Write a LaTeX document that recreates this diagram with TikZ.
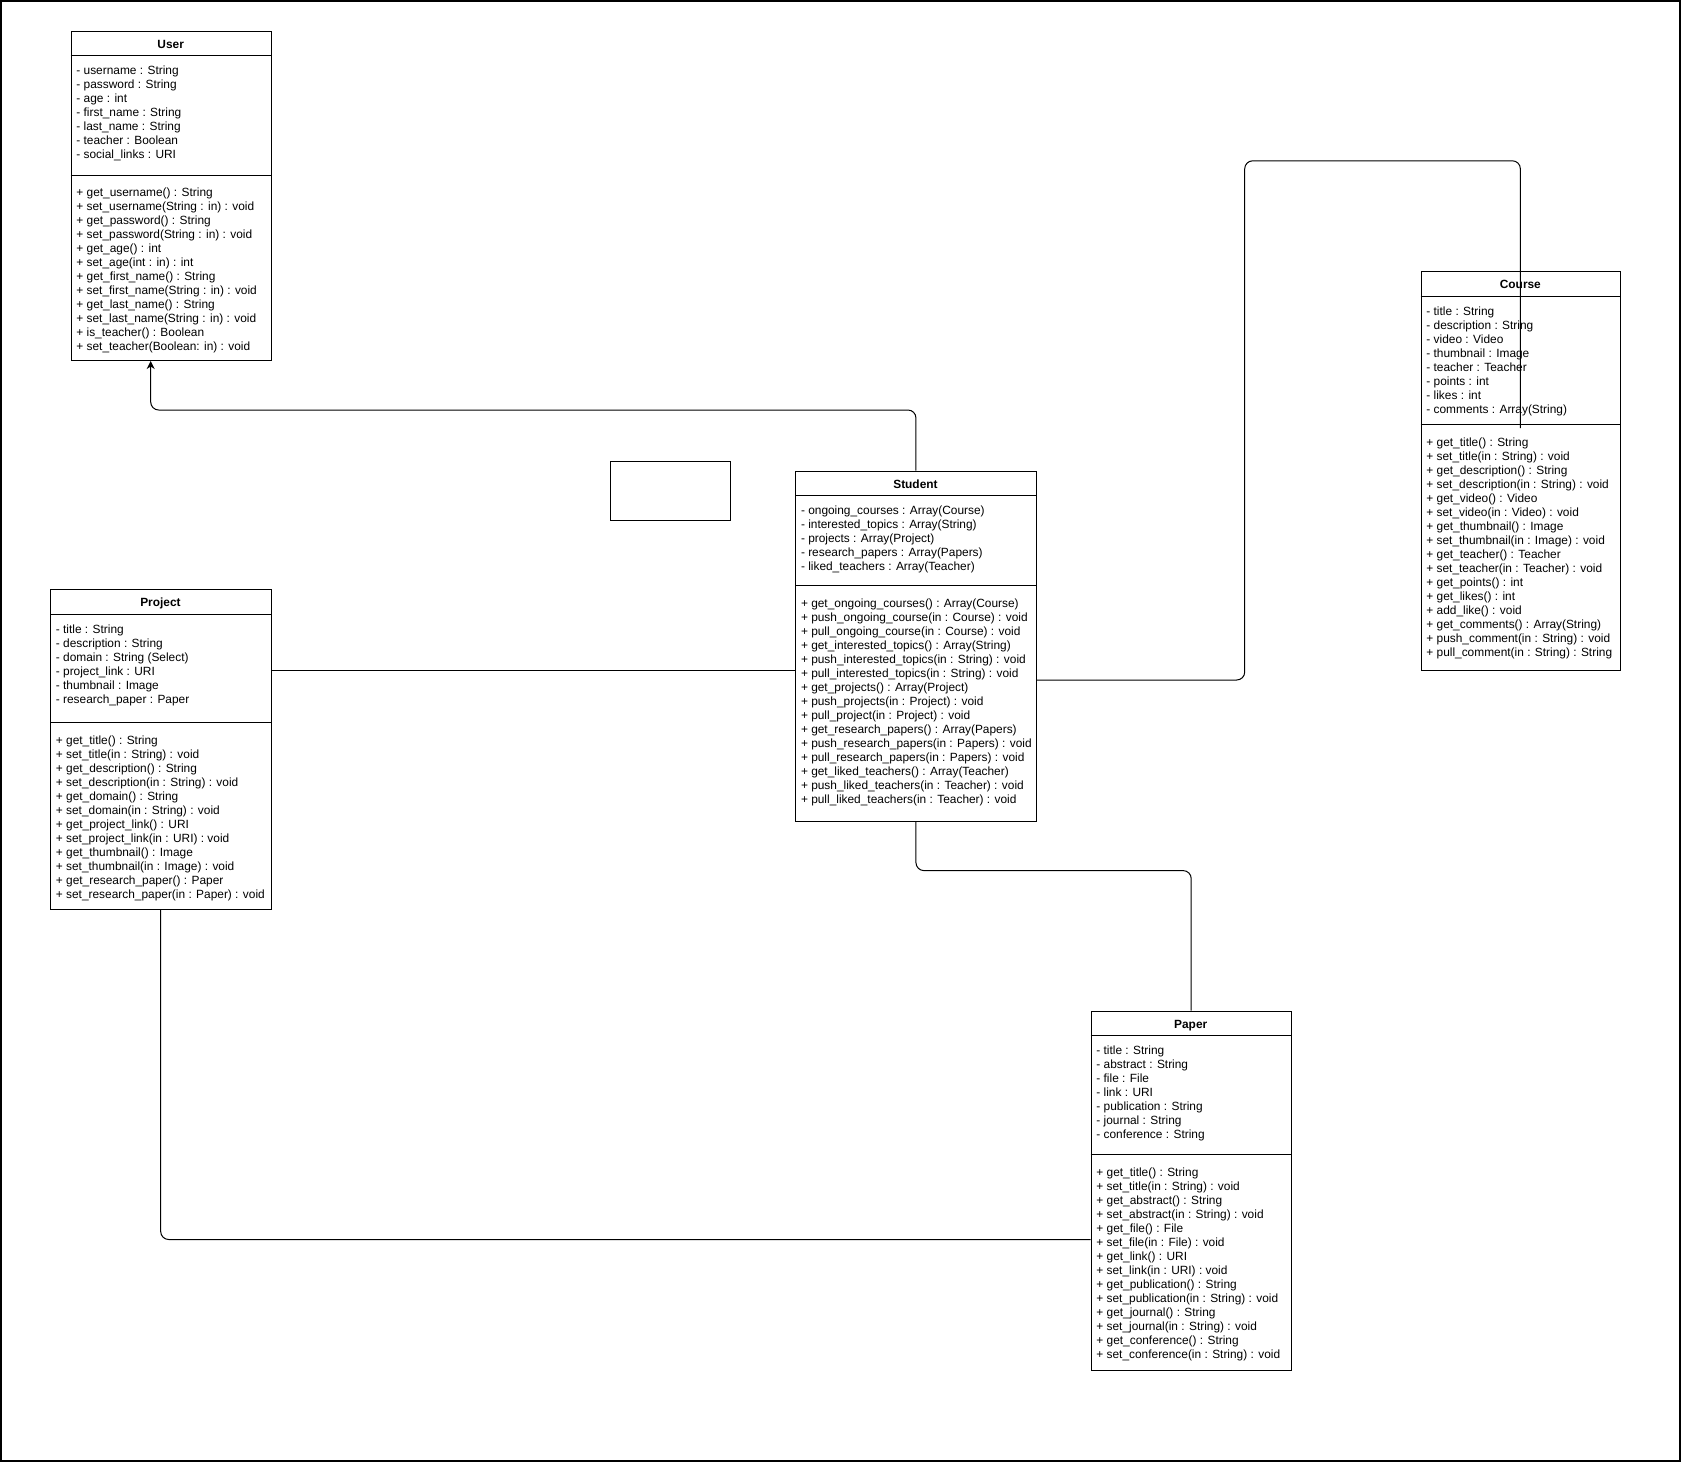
\documentclass[tikz,border=0pt]{standalone}
\usepackage{fontspec}
\setmainfont{Liberation Sans}
\usetikzlibrary{arrows.meta}

% The base anchor of a multi-line member list sits on its last line,
% so each list is placed at the baseline of its bottom line.
\tikzset{
  classbox/.style={draw, line width=1pt, rectangle, inner sep=0pt, anchor=north west},
  rule/.style={line width=1pt},
  classtitle/.style={anchor=base, inner sep=0pt, yshift=-1pt, font=\bfseries\fontsize{11.9}{14}\selectfont},
  members/.style={anchor=base west, align=left, inner sep=0pt, yshift=-1pt, font=\fontsize{11.9}{14}\selectfont},
  conn/.style={line width=1pt, rounded corners=8pt},
  inherit/.style={-{Stealth[length=8pt,width=8pt,inset=2.5pt]}},
}

\begin{document}
\begin{tikzpicture}[x=1pt,y=-1pt]
\useasboundingbox (0,0) rectangle (1681,1462);
% outer frame
\draw[line width=1.5pt] (0.9,0.8) rectangle (1680.2,1461.2);

% ---------------- User ----------------
\node[classbox, minimum width=200pt, minimum height=329pt] (user) at (70.7,31) {};
\draw[rule] (70.7,55.7) -- (270.7,55.7);
\draw[rule] (70.7,175) -- (270.7,175);
\node[classtitle] (user-title) at (170.7,47.6) {User};
\node[members] (user-attrs) at (76.2,157.7) {- username : String\\- password : String\\- age : int\\- first\_name : String\\- last\_name : String\\- teacher : Boolean\\- social\_links : URI};
\node[members] (user-ops) at (76.2,349.5) {+ get\_username() : String\\+ set\_username(String : in) : void\\+ get\_password() : String\\+ set\_password(String : in) : void\\+ get\_age() : int\\+ set\_age(int : in) : int\\+ get\_first\_name() : String\\+ set\_first\_name(String : in) : void\\+ get\_last\_name() : String\\+ set\_last\_name(String : in) : void\\+ is\_teacher() : Boolean\\+ set\_teacher(Boolean: in) : void};

% ---------------- Project ----------------
\node[classbox, minimum width=220.5pt, minimum height=320pt] (project) at (50.2,588.5) {};
\draw[rule] (50.2,614) -- (270.7,614);
\draw[rule] (50.2,722.7) -- (270.7,722.7);
\node[classtitle] (project-title) at (160.45,605.5) {Project};
\node[members] (project-attrs) at (55.7,702) {- title : String\\- description : String\\- domain : String (Select)\\- project\_link : URI\\- thumbnail : Image\\- research\_paper : Paper};
\node[members] (project-ops) at (55.7,897.2) {+ get\_title() : String\\+ set\_title(in : String) : void\\+ get\_description() : String\\+ set\_description(in : String) : void\\+ get\_domain() : String\\+ set\_domain(in : String) : void\\+ get\_project\_link() : URI\\+ set\_project\_link(in : URI) : void\\+ get\_thumbnail() : Image\\+ set\_thumbnail(in : Image) : void\\+ get\_research\_paper() : Paper\\+ set\_research\_paper(in : Paper) : void};

% ---------------- Student ----------------
\node[classbox, minimum width=240.3pt, minimum height=349.8pt] (student) at (795.3,470.7) {};
\draw[rule] (795.3,495.7) -- (1035.6,495.7);
\draw[rule] (795.3,585.8) -- (1035.6,585.8);
\node[classtitle] (student-title) at (915.45,487.5) {Student};
\node[members] (student-attrs) at (800.8,569.7) {- ongoing\_courses : Array(Course)\\- interested\_topics : Array(String)\\- projects : Array(Project)\\- research\_papers : Array(Papers)\\- liked\_teachers : Array(Teacher)};
\node[members] (student-ops) at (800.8,802.3) {+ get\_ongoing\_courses() : Array(Course)\\+ push\_ongoing\_course(in : Course) : void\\+ pull\_ongoing\_course(in : Course) : void\\+ get\_interested\_topics() : Array(String)\\+ push\_interested\_topics(in : String) : void\\+ pull\_interested\_topics(in : String) : void\\+ get\_projects() : Array(Project)\\+ push\_projects(in : Project) : void\\+ pull\_project(in : Project) : void\\+ get\_research\_papers() : Array(Papers)\\+ push\_research\_papers(in : Papers) : void\\+ pull\_research\_papers(in : Papers) : void\\+ get\_liked\_teachers() : Array(Teacher)\\+ push\_liked\_teachers(in : Teacher) : void\\+ pull\_liked\_teachers(in : Teacher) : void};

% ---------------- Course ----------------
\node[classbox, minimum width=199.3pt, minimum height=399.3pt] (course) at (1420.7,270.7) {};
\draw[rule] (1420.7,296) -- (1620,296);
\draw[rule] (1420.7,424.5) -- (1620,424.5);
\node[classtitle] (course-title) at (1520.35,287.6) {Course};
\node[members] (course-attrs) at (1426.2,412) {- title : String\\- description : String\\- video : Video\\- thumbnail : Image\\- teacher : Teacher\\- points : int\\- likes : int\\- comments : Array(String)};
\node[members] (course-ops) at (1426.2,655) {+ get\_title() : String\\+ set\_title(in : String) : void\\+ get\_description() : String\\+ set\_description(in : String) : void\\+ get\_video() : Video\\+ set\_video(in : Video) : void\\+ get\_thumbnail() : Image\\+ set\_thumbnail(in : Image) : void\\+ get\_teacher() : Teacher\\+ set\_teacher(in : Teacher) : void\\+ get\_points() : int\\+ get\_likes() : int\\+ add\_like() : void\\+ get\_comments() : Array(String)\\+ push\_comment(in : String) : void\\+ pull\_comment(in : String) : String};

% ---------------- Paper ----------------
\node[classbox, minimum width=200pt, minimum height=359.3pt] (paper) at (1090.7,1010.7) {};
\draw[rule] (1090.7,1035.7) -- (1290.7,1035.7);
\draw[rule] (1090.7,1154.5) -- (1290.7,1154.5);
\node[classtitle] (paper-title) at (1190.7,1027.5) {Paper};
\node[members] (paper-attrs) at (1096.2,1137.7) {- title : String\\- abstract : String\\- file : File\\- link : URI\\- publication : String\\- journal : String\\- conference : String};
\node[members] (paper-ops) at (1096.2,1357) {+ get\_title() : String\\+ set\_title(in : String) : void\\+ get\_abstract() : String\\+ set\_abstract(in : String) : void\\+ get\_file() : File\\+ set\_file(in : File) : void\\+ get\_link() : URI\\+ set\_link(in : URI) : void\\+ get\_publication() : String\\+ set\_publication(in : String) : void\\+ get\_journal() : String\\+ set\_journal(in : String) : void\\+ get\_conference() : String\\+ set\_conference(in : String) : void};

% empty box
\node[classbox, minimum width=120pt, minimum height=59pt] (blank) at (610,461) {};

% ---------------- connectors ----------------
\coordinate (upbend) at (150.7,410);
\coordinate (projrow) at (0,670.5);
\coordinate (courserow) at (0,680);
\coordinate (courseup) at (1244.7,160.8);
\coordinate (coursein) at (1520.35,428);
\coordinate (paperrow) at (0,870.6);
\coordinate (projdown) at (160.7,1239.5);

\draw[conn, inherit] (student.north) -- (student.north |- upbend) -- (upbend) -- (user.south -| upbend);
\draw[conn] (project.east |- projrow) -- (student.west |- projrow);
\draw[conn] (student.east |- courserow) -- (courseup |- courserow) -- (courseup) -- (coursein |- courseup) -- (coursein);
\draw[conn] (student.south) -- (student.south |- paperrow) -- (paper.north |- paperrow) -- (paper.north);
\draw[conn] (project.south -| projdown) -- (projdown) -- (paper.west |- projdown);
\end{tikzpicture}
\end{document}
